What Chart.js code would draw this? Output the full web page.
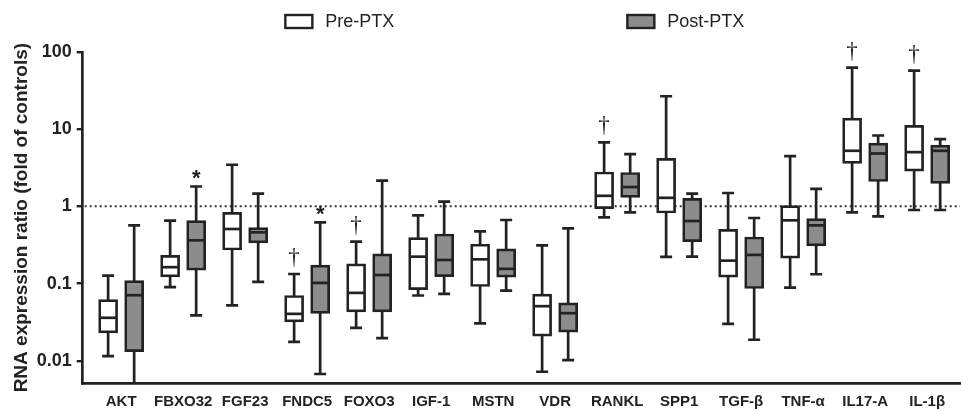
<!DOCTYPE html>
<html><head><meta charset="utf-8">
<script src="https://cdn.jsdelivr.net/npm/chart.js@4.4.1/dist/chart.umd.min.js"></script>
<style>html,body{margin:0;padding:0;background:#fff}</style>
</head><body>
<canvas id="c" width="961" height="410"></canvas>
<script>
const categories = ['AKT','FBXO32','FGF23','FNDC5','FOXO3','IGF-1','MSTN','VDR','RANKL','SPP1','TGF-β','TNF-α','IL17-A','IL-1β'];

const preMin    = [0.0115, 0.0897, 0.052, 0.0176, 0.0267, 0.070, 0.0304, 0.0072, 0.72, 0.221, 0.0301, 0.0888, 0.836, 0.897];
const preQ1     = [0.023, 0.122, 0.272, 0.0319, 0.043, 0.0836, 0.0915, 0.0208, 0.933, 0.82, 0.121, 0.213, 3.6, 2.86];
const preMedian = [0.036, 0.163, 0.509, 0.0405, 0.0757, 0.223, 0.206, 0.0509, 1.37, 1.29, 0.198, 0.659, 5.25, 5.04];
const preQ3     = [0.062, 0.232, 0.836, 0.070, 0.180, 0.393, 0.323, 0.0728, 2.79, 4.18, 0.504, 1.02, 13.9, 11.2];
const preMax    = [0.127, 0.653, 3.46, 0.133, 0.349, 0.765, 0.475, 0.313, 6.73, 26.7, 1.49, 4.48, 62.7, 57.4];

const postMin    = [0.004, 0.0386, 0.105, 0.00673, 0.0196, 0.0735, 0.0811, 0.0102, 0.836, 0.223, 0.0187, 0.132, 0.743, 0.897];
const postQ1     = [0.0131, 0.149, 0.336, 0.041, 0.043, 0.123, 0.121, 0.0235, 1.31, 0.349, 0.0862, 0.307, 2.1, 1.98];
const postMedian = [0.0706, 0.363, 0.461, 0.102, 0.129, 0.202, 0.155, 0.0413, 1.78, 0.646, 0.235, 0.568, 4.84, 5.25];
const postQ3     = [0.109, 0.653, 0.530, 0.173, 0.242, 0.439, 0.281, 0.0562, 2.75, 1.27, 0.401, 0.693, 6.59, 6.21];
const postMax    = [0.568, 1.81, 1.46, 0.621, 2.15, 1.15, 0.666, 0.52, 4.76, 1.46, 0.707, 1.68, 8.28, 7.43];

const yTicks = [0.01, 0.1, 1, 10, 100];
const yTickLabels = ['0.01', '0.1', '1', '10', '100'];
const referenceLine = 1;

const annotations = [
  {cat: 'FBXO32', series: 1, symbol: '*'},
  {cat: 'FNDC5',  series: 1, symbol: '*'},
  {cat: 'FNDC5',  series: 0, symbol: '†'},
  {cat: 'FOXO3',  series: 0, symbol: '†'},
  {cat: 'RANKL',  series: 0, symbol: '†'},
  {cat: 'IL17-A', series: 0, symbol: '†'},
  {cat: 'IL-1β',  series: 0, symbol: '†'}
];

const groupOffset = 0.21;
const boxWidth = 19;
const capWidth = 12;
const lineW = 2.7;
const ink = '#222';
const grey = '#8c8c8c';

const series = [
  {label: 'Pre-PTX',  min: preMin,  q1: preQ1,  med: preMedian,  q3: preQ3,  max: preMax,  offset: -groupOffset, fill: '#ffffff'},
  {label: 'Post-PTX', min: postMin, q1: postQ1, med: postMedian, q3: postQ3, max: postMax, offset: groupOffset,  fill: grey}
];

const boxPlugin = {
  id: 'boxplot',
  beforeDatasetsDraw(chart) {
    const {ctx, chartArea: a, scales: {x, y}} = chart;
    ctx.save();
    ctx.beginPath();
    ctx.rect(a.left, a.top - 10, a.right - a.left, a.bottom - a.top + 10);
    ctx.clip();
    const yr = y.getPixelForValue(referenceLine);
    ctx.strokeStyle = '#333';
    ctx.lineWidth = 2;
    ctx.setLineDash([2, 3]);
    ctx.beginPath();
    ctx.moveTo(a.left + 2, yr);
    ctx.lineTo(a.right, yr);
    ctx.stroke();
    ctx.setLineDash([]);
    ctx.restore();

    ctx.save();
    ctx.beginPath();
    ctx.rect(a.left, a.top - 10, a.right - a.left, a.bottom - a.top + 10);
    ctx.clip();
    ctx.strokeStyle = ink;
    ctx.lineWidth = lineW;
    series.forEach(s => {
      categories.forEach((c, i) => {
        const px = x.getPixelForValue(i + s.offset);
        const yMin = y.getPixelForValue(Math.max(s.min[i], y.min * 0.5));
        const yMax = y.getPixelForValue(s.max[i]);
        ctx.beginPath();
        ctx.moveTo(px, yMin);
        ctx.lineTo(px, yMax);
        ctx.stroke();
        ctx.beginPath();
        ctx.moveTo(px - capWidth / 2, yMax);
        ctx.lineTo(px + capWidth / 2, yMax);
        if (s.min[i] >= y.min) {
          ctx.moveTo(px - capWidth / 2, yMin);
          ctx.lineTo(px + capWidth / 2, yMin);
        }
        ctx.stroke();
      });
    });
    ctx.restore();
  },
  afterDatasetsDraw(chart) {
    const {ctx, scales: {x, y}} = chart;
    ctx.save();
    ctx.strokeStyle = ink;
    ctx.lineWidth = lineW;
    series.forEach(s => {
      categories.forEach((c, i) => {
        const px = x.getPixelForValue(i + s.offset);
        const ym = y.getPixelForValue(s.med[i]);
        ctx.beginPath();
        ctx.moveTo(px - boxWidth / 2 + 1, ym);
        ctx.lineTo(px + boxWidth / 2 - 1, ym);
        ctx.stroke();
      });
    });
    ctx.fillStyle = ink;
    ctx.textAlign = 'center';
    ctx.textBaseline = 'alphabetic';
    annotations.forEach(an => {
      const i = categories.indexOf(an.cat);
      const s = series[an.series];
      const px = x.getPixelForValue(i + s.offset);
      const ym = y.getPixelForValue(s.max[i]);
      ctx.fillStyle = ink;
      if (an.symbol === '*') {
        ctx.font = 'bold 22px "Liberation Sans", Arial, sans-serif';
        ctx.fillText(an.symbol, px, ym - 1);
      } else {
        ctx.font = '23px "Liberation Serif", "Times New Roman", serif';
        ctx.fillText(an.symbol, px, ym - 10);
      }
    });
    ctx.restore();
  },
  afterDraw(chart) {
    const {ctx, chartArea: a} = chart;
    const cx = (a.left + a.right) / 2;
    const items = [
      {ds: chart.data.datasets[0], left: cx - 236},
      {ds: chart.data.datasets[1], left: cx + 106}
    ];
    ctx.save();
    ctx.font = '18px "Liberation Sans", Arial, sans-serif';
    ctx.textBaseline = 'middle';
    ctx.textAlign = 'left';
    items.forEach(it => {
      ctx.fillStyle = it.ds.backgroundColor;
      ctx.strokeStyle = ink;
      ctx.lineWidth = 2.4;
      ctx.fillRect(it.left, 15, 27, 13);
      ctx.strokeRect(it.left, 15, 27, 13);
      ctx.fillStyle = ink;
      ctx.fillText(it.ds.label, it.left + 40, 22);
    });
    ctx.restore();
  }
};

new Chart(document.getElementById('c'), {
  type: 'bar',
  data: {
    datasets: series.map(s => ({
      label: s.label,
      data: categories.map((c, i) => ({x: i + s.offset, y: [s.q1[i], s.q3[i]]})),
      backgroundColor: s.fill,
      borderColor: ink,
      borderWidth: lineW,
      borderSkipped: false,
      barThickness: boxWidth,
      grouped: false
    }))
  },
  options: {
    responsive: false,
    animation: false,
    devicePixelRatio: 1,
    layout: {padding: {top: 52, right: 1, left: 0, bottom: 0}},
    plugins: {legend: {display: false}, tooltip: {enabled: false}},
    scales: {
      x: {
        type: 'linear',
        offset: false,
        min: -0.62,
        max: 13.53,
        grid: {display: false, drawTicks: false},
        border: {display: true, color: ink, width: lineW},
        afterBuildTicks: s => { s.ticks = categories.map((c, i) => ({value: i})); },
        ticks: {
          autoSkip: false, maxRotation: 0, minRotation: 0, padding: 10, color: ink,
          font: {family: '"Liberation Sans", Arial, sans-serif', size: 15, weight: 'bold'},
          callback: (v) => categories[v]
        },
        afterFit: s => { s.height = 26.7; }
      },
      y: {
        type: 'logarithmic',
        min: 0.0051,
        max: 100,
        afterBuildTicks: s => { s.ticks = yTicks.map(v => ({value: v})); },
        grid: {display: true, drawOnChartArea: false, drawTicks: true, tickLength: 6, color: ink, lineWidth: 2.4},
        border: {display: true, color: ink, width: lineW},
        ticks: {
          padding: 5, color: ink,
          font: {family: '"Liberation Sans", Arial, sans-serif', size: 18, weight: 'bold'},
          callback: (v, idx) => yTickLabels[idx]
        },
        title: {
          display: true,
          text: 'RNA expression ratio (fold of controls)',
          color: ink,
          font: {family: '"Liberation Sans", Arial, sans-serif', size: 19, weight: 'bold'},
          padding: {top: 10.6, bottom: 0}
        },
        afterFit: s => { s.width = 82.7; }
      }
    }
  },
  plugins: [boxPlugin]
});
</script>
</body></html>
